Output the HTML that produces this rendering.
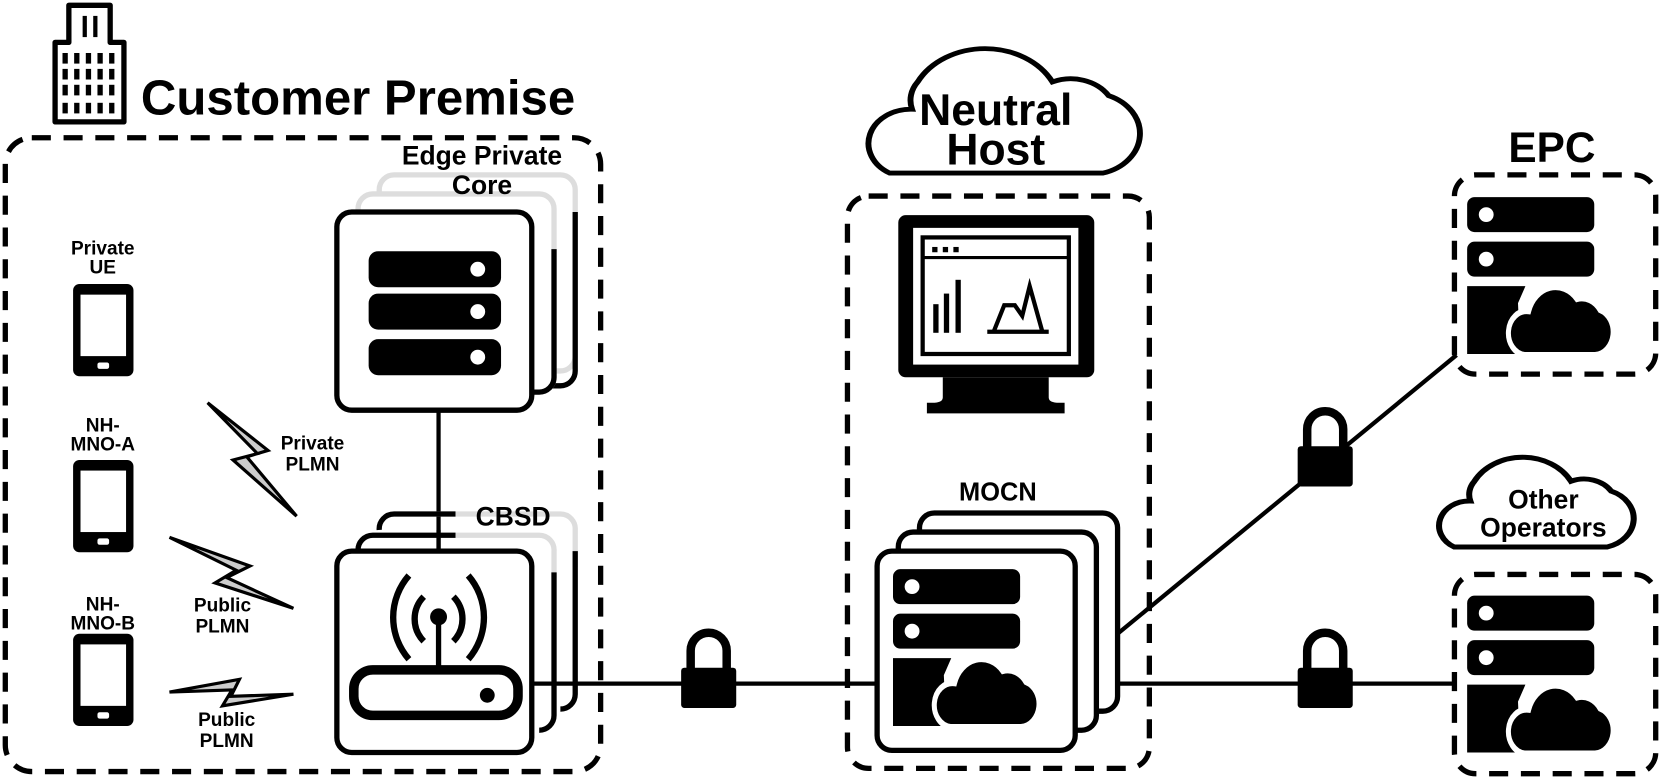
<!DOCTYPE html>
<html><head><meta charset="utf-8"><style>
html,body{margin:0;padding:0;background:#fff}
svg{display:block}
text{font-family:"Liberation Sans",Arial,sans-serif;font-weight:bold;fill:#000}
</style></head><body>
<svg width="1661" height="779" viewBox="0 0 1568 735" preserveAspectRatio="none" xmlns="http://www.w3.org/2000/svg">
<defs>
<path id="cloud" d="M15,60 H85 A19,19 0 0 0 90,23 A22,22 0 0 0 67,14 A28,28 0 0 0 19,24 A18,18 0 0 0 15,60 Z"/>
<path id="cloud2" d="M12,62 H88 A18,18 0 0 0 90,28 A16,16 0 0 0 70,22 A27,27 0 0 0 22,22 A14,14 0 0 0 20,34 A15,15 0 0 0 12,62 Z"/>
<g id="srvcloud">
 <rect x="0" y="0" width="120" height="33" rx="7"/>
 <circle cx="18" cy="16.5" r="7" fill="#fff"/>
 <rect x="0" y="42" width="120" height="33" rx="7"/>
 <circle cx="18" cy="58.5" r="7" fill="#fff"/>
 <path d="M0,84 H55 L48,100 L50,148 H0 Z"/>
 <use href="#cloud" transform="translate(40,80) scale(0.95,1.15)" fill="#000" stroke="#fff" stroke-width="5"/>
</g>
<g id="lock">
 <path d="M-17,0 V-18 A17,17 0 0 1 17,-18 V0" fill="none" stroke="#000" stroke-width="8"/>
 <rect x="-26" y="-2" width="52" height="38" rx="3"/>
</g>
<g id="phone">
 <rect x="0" y="0" width="57" height="87" rx="6"/>
 <rect x="7" y="10" width="43" height="58" fill="#fff"/>
 <rect x="23" y="74" width="11" height="6" rx="2" fill="#fff"/>
</g>
</defs>

<!-- Building -->
<g fill="none" stroke="#000" stroke-width="5">
 <path d="M52,40 H65 V5 H104 V40 H117 V115 H52 Z" stroke-linejoin="round"/>
</g>
<g fill="#000">
 <rect x="78" y="15" width="4" height="20"/><rect x="88" y="15" width="4" height="20"/>
 <g id="row"><rect x="59" y="50" width="5" height="10"/><rect x="70" y="50" width="5" height="10"/><rect x="81" y="50" width="5" height="10"/><rect x="92" y="50" width="5" height="10"/><rect x="103" y="50" width="5" height="10"/></g>
 <use href="#row" y="15"/><use href="#row" y="30"/><use href="#row" y="47"/>
</g>
<text x="133" y="108" font-size="46" textLength="410" lengthAdjust="spacingAndGlyphs">Customer Premise</text>

<!-- Customer premise dashed -->
<rect x="5" y="130" width="562" height="598" rx="25" fill="none" stroke="#000" stroke-width="5" stroke-dasharray="18 12"/>

<!-- Edge private core stack -->
<g fill="#fff" stroke-width="5">
 <rect x="358" y="165" width="185" height="185" rx="14" stroke="#ddd"/>
 <path d="M358,190 V350 A14,14 0 0 0 372,364 H529 A14,14 0 0 0 543,350 V200" fill="none" stroke="#000"/>
 <rect x="338" y="183" width="185" height="187" rx="14" stroke="#ddd"/>
 <path d="M338,205 V356 A14,14 0 0 0 352,370 H509 A14,14 0 0 0 523,356 V235" fill="none" stroke="#000"/>
 <rect x="318" y="200" width="184" height="187" rx="14" stroke="#000"/>
</g>
<g fill="#000">
 <rect x="348" y="237" width="125" height="34" rx="9"/><circle cx="451" cy="254" r="7" fill="#fff"/>
 <rect x="348" y="277" width="125" height="34" rx="9"/><circle cx="451" cy="294" r="7" fill="#fff"/>
 <rect x="348" y="320" width="125" height="34" rx="9"/><circle cx="451" cy="337" r="7" fill="#fff"/>
</g>
<text x="455" y="155" font-size="25" text-anchor="middle">Edge Private</text>
<text x="455" y="183" font-size="25" text-anchor="middle">Core</text>

<!-- CBSD stack -->
<line x1="414" y1="387" x2="414" y2="520" stroke="#000" stroke-width="4"/>
<g fill="none" stroke-width="5">
 <path d="M358,500 A14,14 0 0 1 372,485 H529 A14,14 0 0 1 543,500 V535" stroke="#ddd"/>
 <path d="M358,500 A14,14 0 0 1 372,485 H430" stroke="#000"/>
 <path d="M543,520 V655 A14,14 0 0 1 529,669" stroke="#000"/>
 <path d="M338,520 A14,14 0 0 1 352,505 H509 A14,14 0 0 1 523,520 V545" stroke="#ddd"/>
 <path d="M338,520 A14,14 0 0 1 352,505 H430" stroke="#000"/>
 <path d="M523,540 V675 A14,14 0 0 1 509,689" stroke="#000"/>
</g>
<rect x="318" y="520" width="184" height="190" rx="14" fill="#fff" stroke="#000" stroke-width="5"/>
<line x1="414" y1="520" x2="414" y2="500" stroke="#000" stroke-width="4"/>
<text x="449" y="496" font-size="25">CBSD</text>
<!-- router -->
<g fill="none" stroke="#000" stroke-linecap="butt">
 <path d="M400,563 A30,30 0 0 0 400,605" stroke-width="6"/>
 <path d="M428,563 A30,30 0 0 1 428,605" stroke-width="6"/>
 <path d="M386,543 A60,60 0 0 0 386,622" stroke-width="6"/>
 <path d="M442,543 A60,60 0 0 1 442,622" stroke-width="6"/>
 <line x1="414" y1="585" x2="414" y2="630" stroke-width="5"/>
 <rect x="334" y="632" width="155" height="43" rx="18" stroke-width="9"/>
</g>
<circle cx="414" cy="582" r="8"/>
<circle cx="460" cy="656" r="7"/>

<!-- Phones -->
<text x="97" y="240" font-size="18" text-anchor="middle">Private</text>
<text x="97" y="258" font-size="18" text-anchor="middle">UE</text>
<use href="#phone" x="69" y="268"/>
<text x="97" y="407" font-size="18" text-anchor="middle">NH-</text>
<text x="97" y="425" font-size="18" text-anchor="middle">MNO-A</text>
<use href="#phone" x="69" y="434"/>
<text x="97" y="576" font-size="18" text-anchor="middle">NH-</text>
<text x="97" y="594" font-size="18" text-anchor="middle">MNO-B</text>
<use href="#phone" x="69" y="598"/>

<!-- Lightning -->
<g fill="#ccc" stroke="#000" stroke-width="3" stroke-linejoin="miter">
 <polygon points="196,380 253,425 233,431 280,487 220,434 243,428"/>
 <polygon points="160,507 236,534 214,545 277,574 203,550 223,538"/>
 <polygon points="160,653 226,641 218,657 277,655 210,666 219,651"/>
</g>
<text x="295" y="424" font-size="18" text-anchor="middle">Private</text>
<text x="295" y="444" font-size="18" text-anchor="middle">PLMN</text>
<text x="210" y="577" font-size="18" text-anchor="middle">Public</text>
<text x="210" y="597" font-size="18" text-anchor="middle">PLMN</text>
<text x="214" y="685" font-size="18" text-anchor="middle">Public</text>
<text x="214" y="705" font-size="18" text-anchor="middle">PLMN</text>

<!-- links -->
<g stroke="#000" stroke-width="4">
 <line x1="502" y1="645" x2="830" y2="645"/>
 <line x1="1015" y1="645" x2="1375" y2="645"/>
 <line x1="1055" y1="598" x2="1375" y2="335"/>
</g>
<use href="#lock" x="669" y="632"/>
<use href="#lock" x="1251" y="423"/>
<use href="#lock" x="1251" y="632"/>

<!-- Neutral host -->
<use href="#cloud2" transform="translate(808,30) scale(2.65,2.15)" fill="#fff" stroke="#000" stroke-width="2.1"/>
<text x="940" y="118" font-size="42" text-anchor="middle">Neutral</text>
<text x="940" y="155" font-size="42" text-anchor="middle">Host</text>
<rect x="800" y="185" width="285" height="540" rx="20" fill="none" stroke="#000" stroke-width="5" stroke-dasharray="18 12"/>
<!-- monitor -->
<rect x="848" y="203" width="185" height="153" rx="7"/>
<rect x="862" y="215" width="156" height="129" fill="#fff"/>
<rect x="871" y="224" width="138" height="110" fill="none" stroke="#000" stroke-width="4"/>
<line x1="871" y1="243" x2="1009" y2="243" stroke="#000" stroke-width="3"/>
<rect x="880" y="233" width="5" height="5"/><rect x="890" y="233" width="5" height="5"/><rect x="900" y="233" width="5" height="5"/>
<rect x="881" y="287" width="5" height="27"/><rect x="891" y="277" width="5" height="37"/><rect x="902" y="264" width="5" height="50"/>
<path d="M932,313 H990 M938,313 L948,288 H958 L965,298 L972,270 L984,313" fill="none" stroke="#000" stroke-width="4"/>
<path d="M890,356 H990 V375 Q990,380 1000,380 H1005 V390 H875 V380 H880 Q890,380 890,375 Z"/>

<!-- MOCN -->
<text x="942" y="472" font-size="24" text-anchor="middle">MOCN</text>
<g fill="#fff" stroke="#000" stroke-width="5">
 <rect x="868" y="484" width="187" height="187" rx="14"/>
 <rect x="848" y="502" width="187" height="187" rx="14"/>
 <rect x="828" y="520" width="187" height="188" rx="14"/>
</g>
<use href="#srvcloud" transform="translate(843,537)"/>

<!-- EPC -->
<text x="1465" y="153" font-size="40" text-anchor="middle">EPC</text>
<rect x="1373" y="165" width="190" height="188" rx="20" fill="none" stroke="#000" stroke-width="5" stroke-dasharray="18 12"/>
<use href="#srvcloud" transform="translate(1385,186)"/>

<!-- Other operators -->
<use href="#cloud2" transform="translate(1350,420) scale(1.9,1.55)" fill="#fff" stroke="#000" stroke-width="3"/>
<text x="1457" y="480" font-size="25" text-anchor="middle">Other</text>
<text x="1457" y="506" font-size="25" text-anchor="middle">Operators</text>
<rect x="1373" y="542" width="190" height="188" rx="20" fill="none" stroke="#000" stroke-width="5" stroke-dasharray="18 12"/>
<use href="#srvcloud" transform="translate(1385,562)"/>
</svg>
</body></html>
